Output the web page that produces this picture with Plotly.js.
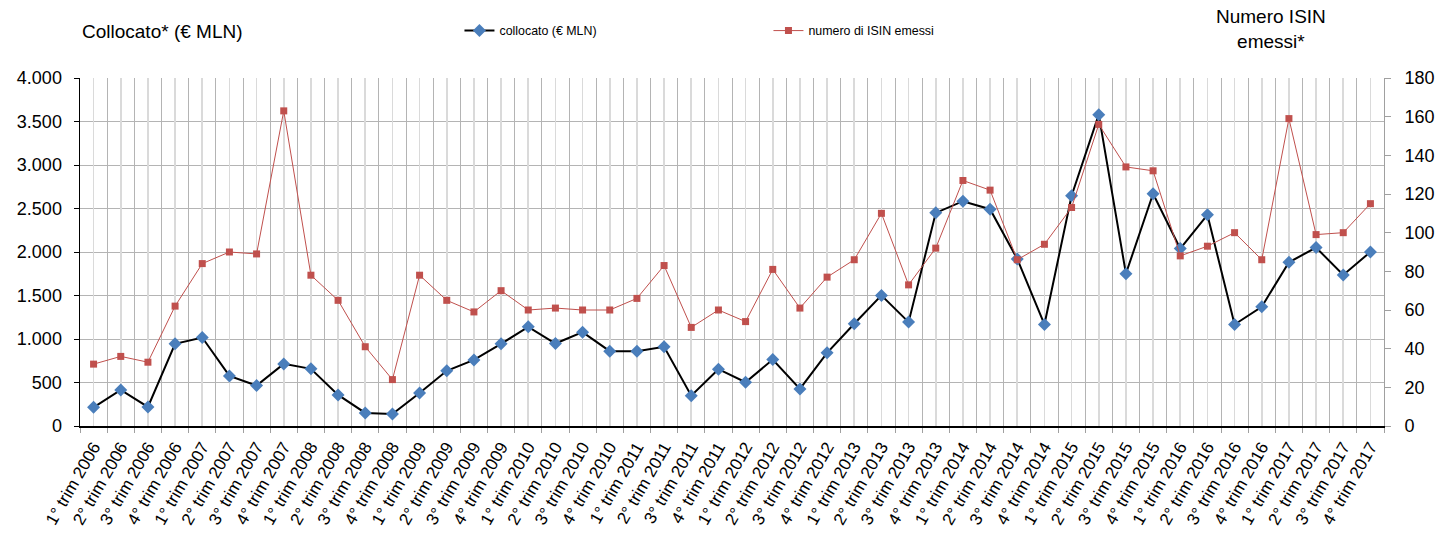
<!DOCTYPE html>
<html>
<head>
<meta charset="utf-8">
<script src="https://cdn.plot.ly/plotly-3.0.1.min.js"></script>
<style>html,body{margin:0;padding:0;background:#fff;}#chart{width:1438px;height:537px;}</style>
</head>
<body>
<div id="chart"></div>
<script>
const quarters = [
  "1° trim 2006","2° trim 2006","3° trim 2006","4° trim 2006",
  "1° trim 2007","2° trim 2007","3° trim 2007","4° trim 2007",
  "1° trim 2008","2° trim 2008","3° trim 2008","4° trim 2008",
  "1° trim 2009","2° trim 2009","3° trim 2009","4° trim 2009",
  "1° trim 2010","2° trim 2010","3° trim 2010","4° trim 2010",
  "1° trim 2011","2° trim 2011","3° trim 2011","4° trim 2011",
  "1° trim 2012","2° trim 2012","3° trim 2012","4° trim 2012",
  "1° trim 2013","2° trim 2013","3° trim 2013","4° trim 2013",
  "1° trim 2014","2° trim 2014","3° trim 2014","4° trim 2014",
  "1° trim 2015","2° trim 2015","3° trim 2015","4° trim 2015",
  "1° trim 2016","2° trim 2016","3° trim 2016","4° trim 2016",
  "1° trim 2017","2° trim 2017","3° trim 2017","4° trim 2017"
];
const collocato = [
  215, 415, 219, 945,
  1017, 576, 465, 714,
  657, 357, 150, 138,
  380, 634, 760, 945,
  1140, 948, 1079, 860,
  860, 910, 349, 653,
  503, 764, 426, 841,
  1175, 1501, 1194, 2450,
  2584, 2492, 1920, 1167,
  2646, 3579, 1751, 2669,
  2039, 2427, 1167, 1371,
  1882, 2051, 1736, 2001
];
const numeroIsin = [
  32, 36, 33, 62,
  84, 90, 89, 163,
  78, 65, 41, 24,
  78, 65, 59, 70,
  60, 61, 60, 60,
  66, 83, 51, 60,
  54, 81, 61, 77,
  86, 110, 73, 92,
  127, 122, 86, 94,
  113, 156, 134, 132,
  88, 93, 100, 86,
  159, 99, 100, 115
];
const seriesNames = ["collocato (€ MLN)", "numero di ISIN emessi"];
const leftTitle = "Collocato* (€ MLN)";
const rightTitle = "Numero ISIN<br>emessi*";

const FONT = "'Liberation Sans', Arial, Helvetica, sans-serif";

const traces = [
  {
    x: quarters, y: collocato, name: seriesNames[0],
    type: "scatter", mode: "lines+markers",
    xaxis: "x", yaxis: "y",
    line: {color: "#000000", width: 2},
    marker: {symbol: "diamond", size: 10, color: "#4a7ebb", line: {width: 0}}
  },
  {
    x: quarters, y: numeroIsin, name: seriesNames[1],
    type: "scatter", mode: "lines+markers",
    xaxis: "x2", yaxis: "y2",
    line: {color: "#c0504d", width: 1},
    marker: {symbol: "square", size: 7, color: "#c0504d", line: {width: 0}}
  }
];

const layout = {
  width: 1438, height: 537,
  margin: {l: 80, r: 54, t: 78, b: 111},
  paper_bgcolor: "#ffffff", plot_bgcolor: "#ffffff",
  font: {family: FONT, color: "#000000", size: 17},
  separators: ",.",
  showlegend: true,
  legend: {
    orientation: "h", x: 0.291, xanchor: "left", y: 1.135, yanchor: "middle",
    font: {family: FONT, size: 12.4, color: "#000000"},
    entrywidth: 264, entrywidthmode: "pixels",
    bgcolor: "rgba(0,0,0,0)"
  },
  xaxis: {
    type: "category", categoryorder: "array", categoryarray: quarters,
    range: [-0.5, quarters.length - 0.5],
    tickson: "boundaries", ticks: "outside", ticklen: 5, tickcolor: "#a0a0a0",
    showgrid: true, gridcolor: "#b4b4b4", gridwidth: 1,
    showline: true, linecolor: "#000000", linewidth: 1.5,
    tickangle: -60, tickfont: {family: FONT, size: 17, color: "#000000"},
    ticklabelstandoff: 3,
    zeroline: false, fixedrange: true
  },
  xaxis2: {
    type: "category", categoryorder: "array", categoryarray: quarters,
    range: [-0.5, quarters.length - 0.5],
    overlaying: "x", anchor: "y2", side: "bottom",
    showticklabels: false, ticks: "",
    showgrid: true, gridcolor: "#dadada", gridwidth: 1.6,
    showline: false, zeroline: false, fixedrange: true
  },
  yaxis: {
    range: [0, 4000], dtick: 500, tick0: 0, tickformat: ",d",
    ticks: "outside", ticklen: 5, tickcolor: "#000000",
    showgrid: true, gridcolor: "#b4b4b4", gridwidth: 1,
    showline: true, linecolor: "#000000", linewidth: 1.5,
    tickfont: {family: FONT, size: 18, color: "#000000"},
    ticklabelstandoff: 8,
    zeroline: false, fixedrange: true
  },
  yaxis2: {
    range: [0, 180], dtick: 20, tick0: 0,
    overlaying: "y", anchor: "x2", side: "right",
    ticks: "outside", ticklen: 6, tickcolor: "#a0a0a0",
    showgrid: false,
    showline: true, linecolor: "#a0a0a0", linewidth: 1,
    tickfont: {family: FONT, size: 18, color: "#000000"},
    ticklabelstandoff: 10,
    zeroline: false, fixedrange: true
  },
  annotations: [
    {
      text: leftTitle, xref: "paper", yref: "paper",
      x: 0.0, xanchor: "left", y: 1.135, yanchor: "middle",
      showarrow: false, font: {family: FONT, size: 19, color: "#000000"}
    },
    {
      text: rightTitle, xref: "paper", yref: "paper",
      x: 0.9135, xanchor: "center", y: 1.14, yanchor: "middle",
      showarrow: false, align: "center",
      font: {family: FONT, size: 19, color: "#000000"}
    }
  ]
};

Plotly.newPlot("chart", traces, layout, {displayModeBar: false, staticPlot: true});
</script>
</body>
</html>
